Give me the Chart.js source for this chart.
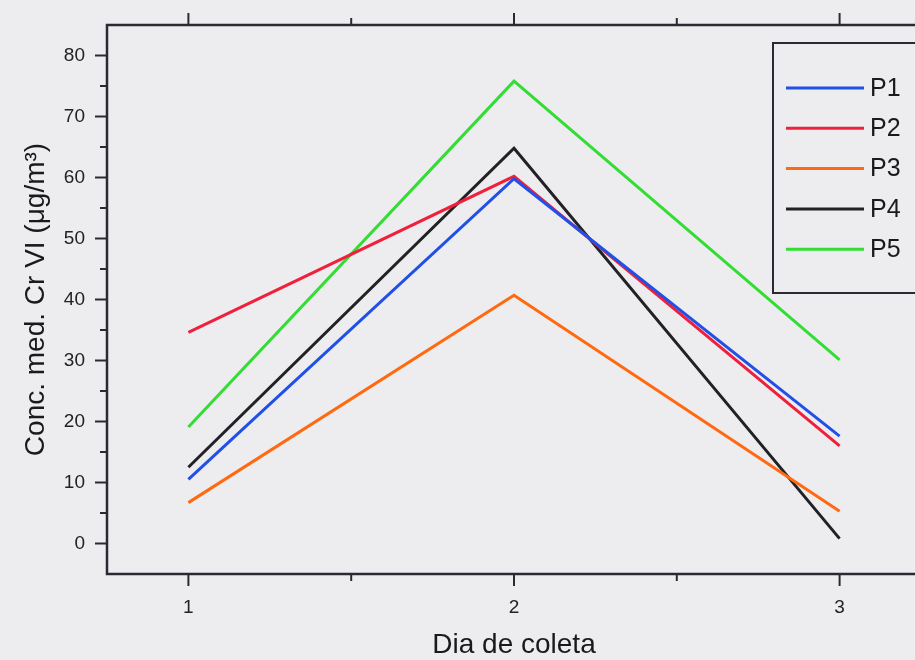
<!DOCTYPE html>
<html>
<head>
<meta charset="utf-8">
<script src="https://cdn.jsdelivr.net/npm/chart.js@4.4.0/dist/chart.umd.min.js"></script>
<style>
  html, body { margin: 0; padding: 0; background: #ededf0; overflow: hidden; }
  #wrap { width: 925px; height: 660px; }
</style>
</head>
<body>
<div id="wrap"><canvas id="myChart" width="925" height="660"></canvas></div>
<script>
// dados
var dias = [1, 2, 3];
var p1 = [10.5, 59.8, 17.6];
var p2 = [34.6, 60.2, 16.0];
var p3 = [6.7, 40.7, 5.3];
var p4 = [12.5, 64.8, 0.8];
var p5 = [19.1, 75.8, 30.1];
var yTicks = [0, 10, 20, 30, 40, 50, 60, 70, 80];
var yMinor = [5, 15, 25, 35, 45, 55, 65, 75];
var xMinor = [1.5, 2.5];

var nomes = ['P1', 'P2', 'P3', 'P4', 'P5'];
var series = [p1, p2, p3, p4, p5];
var cores = ['#2050e8', '#f0203a', '#ff6a10', '#222226', '#33dd33'];

var fonte = '"Liberation Sans", Arial, sans-serif';

function pontos(vals) {
    return dias.map(function (d, i) { return { x: d, y: vals[i] }; });
}

var bgPlugin = {
    id: 'bg',
    beforeDraw: function (chart) {
        var c = chart.ctx;
        c.save();
        c.fillStyle = '#ededf0';
        c.fillRect(0, 0, chart.width, chart.height);
        c.restore();
    }
};

var framePlugin = {
    id: 'frame',
    afterDraw: function (chart) {
        var c = chart.ctx, a = chart.chartArea;
        var xs = chart.scales.x, ys = chart.scales.y;
        c.save();
        c.strokeStyle = '#2a2a32';
        c.lineWidth = 2.5;
        c.strokeRect(a.left, a.top, a.right - a.left, a.bottom - a.top);
        c.lineWidth = 2;
        // eixo y
        yTicks.forEach(function (v) {
            var y = ys.getPixelForValue(v);
            c.beginPath(); c.moveTo(a.left, y); c.lineTo(a.left - 12, y); c.stroke();
        });
        yMinor.forEach(function (v) {
            var y = ys.getPixelForValue(v);
            c.beginPath(); c.moveTo(a.left, y); c.lineTo(a.left - 7, y); c.stroke();
        });
        // eixo x embaixo e em cima
        dias.forEach(function (v) {
            var x = xs.getPixelForValue(v);
            c.beginPath(); c.moveTo(x, a.bottom); c.lineTo(x, a.bottom + 12); c.stroke();
            c.beginPath(); c.moveTo(x, a.top); c.lineTo(x, a.top - 12); c.stroke();
        });
        xMinor.forEach(function (v) {
            var x = xs.getPixelForValue(v);
            c.beginPath(); c.moveTo(x, a.bottom); c.lineTo(x, a.bottom + 7); c.stroke();
            c.beginPath(); c.moveTo(x, a.top); c.lineTo(x, a.top - 7); c.stroke();
        });
        c.restore();
    }
};

var legendaPlugin = {
    id: 'legenda',
    afterDraw: function (chart) {
        var c = chart.ctx;
        c.save();
        c.fillStyle = '#ededf0';
        c.fillRect(773, 43, 200, 250);
        c.strokeStyle = '#2a2a32';
        c.lineWidth = 2;
        c.strokeRect(773, 43, 200, 250);
        c.font = '25px ' + fonte;
        c.textBaseline = 'middle';
        chart.data.datasets.forEach(function (ds, i) {
            var y = 88 + i * 40.3;
            c.strokeStyle = ds.borderColor;
            c.lineWidth = 3;
            c.beginPath(); c.moveTo(786, y); c.lineTo(864, y); c.stroke();
            c.fillStyle = '#1a1a1a';
            c.fillText(ds.label, 870, y + 1);
        });
        c.restore();
    }
};

var ctx = document.getElementById('myChart').getContext('2d');

var myChart = new Chart(ctx, {
    type: 'line',
    data: {
        datasets: nomes.map(function (n, i) {
            return {
                label: n,
                data: pontos(series[i]),
                borderColor: cores[i],
                backgroundColor: cores[i],
                borderWidth: 3,
                pointRadius: 0,
                tension: 0,
                fill: false
            };
        })
    },
    options: {
        responsive: false,
        animation: false,
        layout: { padding: { top: 25, right: 4, left: 0, bottom: 0 } },
        plugins: {
            legend: { display: false },
            tooltip: { enabled: false }
        },
        scales: {
            x: {
                type: 'linear',
                min: 0.75,
                max: 3.25,
                afterBuildTicks: function (s) { s.ticks = dias.map(function (v) { return { value: v }; }); },
                afterFit: function (s) { s.height = 86; },
                grid: { display: false, drawTicks: false },
                border: { display: false },
                ticks: {
                    padding: 22,
                    color: '#222',
                    font: { size: 19, family: fonte },
                    callback: function (v) { return v; }
                },
                title: {
                    display: true,
                    text: 'Dia de coleta',
                    color: '#1a1a1a',
                    padding: { top: 0, bottom: 1 },
                    font: { size: 28, family: fonte, lineHeight: 1 }
                }
            },
            y: {
                min: -5,
                max: 85,
                afterBuildTicks: function (s) { s.ticks = yTicks.map(function (v) { return { value: v }; }); },
                afterFit: function (s) { s.width = 107; s.paddingTop = 0; s.paddingBottom = 0; },
                grid: { display: false, drawTicks: false },
                border: { display: false },
                ticks: {
                    padding: 22,
                    color: '#222',
                    font: { size: 19, family: fonte }
                },
                title: {
                    display: true,
                    text: 'Conc. med. Cr VI (μg/m³)',
                    color: '#1a1a1a',
                    padding: { top: 22, bottom: 0 },
                    font: { size: 28, family: fonte, lineHeight: 1 }
                }
            }
        }
    },
    plugins: [bgPlugin, framePlugin, legendaPlugin]
});
</script>
</body>
</html>
